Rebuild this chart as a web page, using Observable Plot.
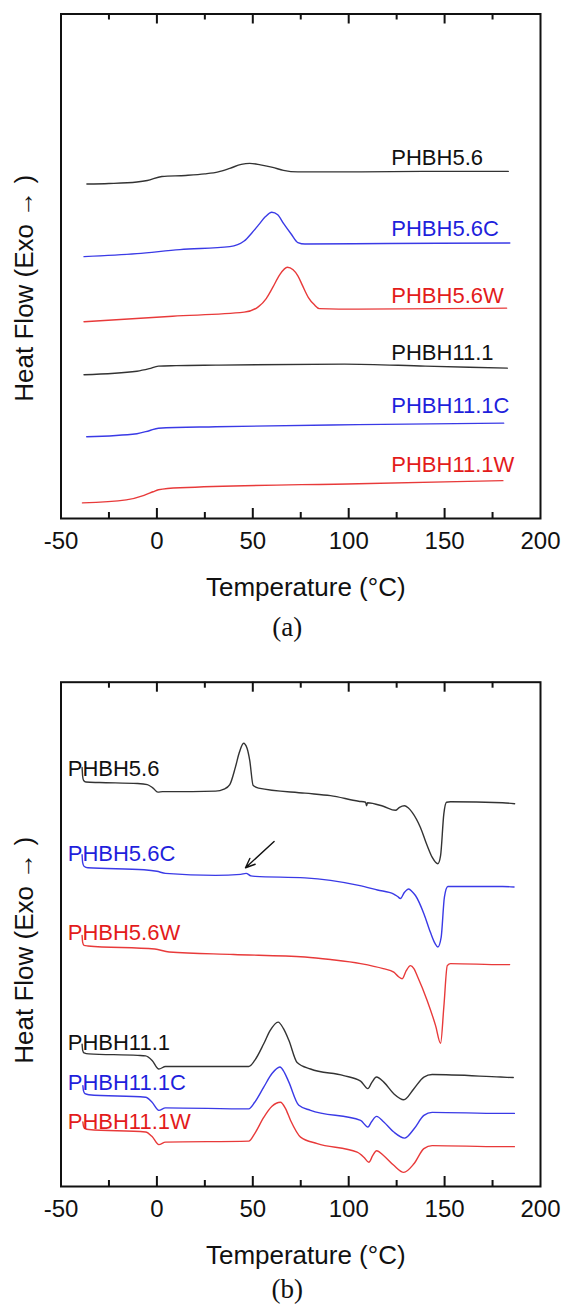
<!DOCTYPE html>
<html>
<head>
<meta charset="utf-8">
<script src="https://cdn.jsdelivr.net/npm/d3@7"></script>
<script src="https://cdn.jsdelivr.net/npm/@observablehq/plot@0.6"></script>
<style>
html, body { margin: 0; padding: 0; background: #ffffff; }
svg { display: block; }
</style>
</head>
<body>
<div id="chart"></div>
<script>
// ---------- shared labels / ticks ----------
const seriesNames = ["PHBH5.6", "PHBH5.6C", "PHBH5.6W", "PHBH11.1", "PHBH11.1C", "PHBH11.1W"];
const xTickLabels = [-50, 0, 50, 100, 150, 200];
const xMajorTicks = [0, 50, 100, 150];
const xMinorTicks = [-25, 25, 75, 125, 175];
const xTitle = "Temperature (°C)";
const yTitle = "Heat Flow (Exo → )";

// ---------- panel (a): [Temperature °C, heat flow (a.u.)] ----------
const a_PHBH56 = [[-36.5,66.3],[-25,66.4],[-10.4,66.7],[-5,67.0],[2.6,67.8],[15,68.0],[25,68.3],[32,68.7],[38,69.4],[44,70.2],[48.4,70.4],[54,70.1],[60.4,69.6],[66,69.0],[73.5,68.7],[105,68.7],[140,68.8],[183.2,68.8]];
const a_PHBH56C = [[-38,51.9],[-10.4,52.5],[12,53.3],[38,53.9],[45.5,55.0],[49.5,56.6],[53,58.2],[56.5,59.8],[59.9,60.7],[63,60.2],[66,58.5],[70,56.4],[73.5,54.7],[77.2,54.4],[120,54.5],[184,54.6]];
const a_PHBH56W = [[-38,39.0],[8.2,40.1],[45.5,40.9],[53,42.0],[57,43.6],[60.4,45.8],[64,48.3],[68,49.8],[71,49.3],[73.5,48.1],[76,46.1],[79,43.8],[82,42.4],[84.7,41.6],[105,41.5],[182.3,41.7]];
const a_PHBH111 = [[-38,28.5],[-10.4,29.2],[-4,29.7],[0.8,30.2],[10,30.3],[30.6,30.4],[97.8,30.6],[140,30.2],[182.7,29.8]];
const a_PHBH111C = [[-36.6,16.2],[-10.4,16.8],[-4,17.4],[0.8,17.9],[30.6,18.2],[105,18.6],[180.8,18.9]];
const a_PHBH111W = [[-38.8,3.1],[-16,3.7],[-6.7,4.6],[-2,5.3],[0.8,5.7],[12,6.1],[105,6.9],[180.4,7.5]];
const a_labelT = 122.2;
const a_labelHF = [71.5, 57.4, 44.2, 32.9, 22.4, 10.6];

// ---------- panel (b) ----------
const b_PHBH56 = [[-39,83.1],[-38.7,81.3],[-38.2,80.5],[-37,80.2],[-30,80.1],[-10,79.9],[-5,79.7],[-2,79.0],[0.5,78.2],[3,78.3],[6.4,78.3],[30.6,78.4],[35,78.8],[38,79.7],[40.9,83.1],[43,86.1],[45.2,87.9],[47,86.9],[48.4,84.5],[50.2,79.5],[53,79.0],[77.2,78.0],[90.5,77.5],[105.2,76.4],[108.8,76.2],[109.3,75.5],[109.8,76.1],[118,75.4],[124.4,74.6],[126.5,75.2],[129.1,75.5],[131,75.1],[133.1,74.2],[137.4,71.2],[140.9,67.6],[143.5,65.3],[146.5,64.0],[147.9,65.6],[149.6,73.9],[151,76.2],[153.1,76.3],[180.2,76.1],[186.5,75.9]];
const b_PHBH56C = [[-39,65.8],[-38.7,64.2],[-38,63.5],[-36,63.2],[-6.7,62.8],[0,62.5],[4.5,62.1],[30.6,61.7],[43.7,61.9],[46.5,62.1],[49,61.6],[51.2,61.5],[77.2,61.2],[90.5,60.7],[105.2,59.7],[115,58.8],[123.5,58.0],[125.5,57.5],[127,57.1],[129,58.3],[131.3,59.0],[133,58.5],[134.8,57.7],[139.2,54.1],[142.6,50.4],[145,48.2],[146.5,47.5],[148.2,49.4],[149.9,57.4],[151.7,59.5],[180.2,59.5],[186.2,59.4]];
const b_PHBH56W = [[-39,49.8],[-38.7,48.4],[-38,47.8],[-36,47.7],[-1.1,47.1],[6.4,46.5],[40,46.0],[77.2,45.5],[90.5,45.0],[106.2,44.2],[118,43.2],[123.5,42.5],[126,41.6],[127.9,41.2],[130,42.8],[132.2,43.8],[134,43.2],[135.7,41.8],[140.9,36.9],[145.3,31.9],[147.9,28.4],[149.6,35.6],[151.4,43.8],[153.1,44.2],[180.2,44.0],[183.9,44.0]];
const b_PHBH111 = [[-39,28.2],[-38.7,27.0],[-38,26.5],[-35.5,26.3],[-10,26.0],[-5.9,25.9],[-2.5,25.0],[1,23.3],[4.5,23.8],[47.9,23.8],[51,25.0],[55.7,28.3],[59,30.9],[63.2,32.6],[66,31.3],[68.8,29.0],[73.1,24.6],[80.1,23.3],[97.4,22.0],[106.2,20.9],[110,19.4],[112,20.6],[114.5,21.7],[118.3,20.7],[123.5,18.4],[128.7,17.2],[134,19.4],[139.2,21.7],[143.5,22.2],[179.2,21.7],[185.8,21.6]];
const b_PHBH111C = [[-38.6,20.0],[-38.3,19.0],[-37.5,18.4],[-35.5,18.2],[-5.9,17.7],[-2.5,16.7],[1,15.1],[4.5,15.6],[47.9,15.4],[51,16.7],[55.7,19.7],[60,22.4],[64.1,23.7],[66.5,22.6],[68.8,20.7],[74,16.1],[80.1,15.1],[106.2,13.1],[110,11.8],[112,12.9],[114.5,13.9],[118.3,12.8],[123.5,10.8],[129.1,9.6],[134,11.4],[139.2,14.1],[143.5,14.7],[179.2,14.5],[186.4,14.5]];
const b_PHBH111W = [[-38.6,12.8],[-38.3,12.0],[-37.5,11.5],[-35.5,11.3],[-5.9,10.8],[-2.5,9.9],[1,8.3],[4.5,8.8],[47.9,9.0],[51,10.5],[55.7,13.7],[60,15.9],[64.4,16.7],[67,15.5],[69.7,13.1],[74.9,9.8],[83.6,8.5],[104.4,6.8],[107.9,5.8],[110.5,4.8],[112.5,6.1],[114.5,7.1],[118.3,6.1],[123.5,4.2],[128.7,2.8],[134,4.5],[139.2,7.5],[143.5,8.1],[179.2,7.9],[186.4,7.9]];
const b_labelT = -46.5;
const b_labelHF = [82.8, 66.0, 50.2, 28.4, 20.5, 12.8];
// arrow pointing at the small exotherm of PHBH5.6C: [tail T, tail HF, tip T, tip HF]
const b_arrow = [61.1, 68.4, 46.2, 63.2];

// ---------- styles ----------
const lineColors = ["#333333", "#3a3ae6", "#e83a3a", "#333333", "#3a3ae6", "#e83a3a"];
const textColors = ["#111111", "#1f1fdc", "#e31b1b", "#111111", "#1f1fdc", "#e31b1b"];
const SANS = "Liberation Sans, Arial, Helvetica, sans-serif";
const SERIF = "Liberation Serif, Times New Roman, serif";
const W = 563;

function panel({curves, labelT, labelHF, caption, height, marginTop, marginBottom, yTitleDy, captionDy, arrow}) {
  const marginLeft = 60.5, marginRight = 23;
  const fh = height - marginTop - marginBottom;
  const marks = [];
  curves.forEach((c, i) => {
    marks.push(Plot.line(c, {x: d => d[0], y: d => d[1], stroke: lineColors[i], strokeWidth: 1.4, curve: "monotone-x"}));
  });
  seriesNames.forEach((name, i) => {
    marks.push(Plot.text([name], {x: () => labelT, y: () => labelHF[i], text: d => d, textAnchor: "start", lineAnchor: "middle",
      fill: textColors[i], fontSize: 22, fontFamily: SANS}));
  });
  if (arrow) {
    marks.push(Plot.arrow([arrow], {x1: d => d[0], y1: d => d[1], x2: d => d[2], y2: d => d[3],
      stroke: "#111", strokeWidth: 1.4, headLength: 11, headAngle: 45}));
  }
  marks.push(
    Plot.frame({stroke: "#111", strokeWidth: 2}),
    Plot.ruleX(xMajorTicks, {x: d => d, insetTop: fh - 10, stroke: "#111", strokeWidth: 2}),
    Plot.ruleX(xMajorTicks, {x: d => d, insetBottom: fh - 10, stroke: "#111", strokeWidth: 2}),
    Plot.ruleX(xMinorTicks, {x: d => d, insetTop: fh - 6, stroke: "#111", strokeWidth: 2}),
    Plot.ruleX(xMinorTicks, {x: d => d, insetBottom: fh - 6, stroke: "#111", strokeWidth: 2}),
    Plot.axisX(xTickLabels, {tickSize: 0, tickPadding: 13, fontSize: 24, fontFamily: SANS, fill: "#111",
      tickFormat: d => String(d), label: null}),
    Plot.text([xTitle], {frameAnchor: "bottom", text: d => d, dy: 69, dx: 5, lineAnchor: "middle",
      fontSize: 26, fontFamily: SANS, fill: "#111"}),
    Plot.text([caption], {frameAnchor: "bottom", text: d => d, dy: captionDy, dx: -13.6, lineAnchor: "middle",
      fontSize: 27, fontFamily: SERIF, fill: "#111"}),
    Plot.text([yTitle], {frameAnchor: "left", text: d => d, rotate: -90, dx: -36.5, dy: yTitleDy,
      textAnchor: "middle", lineAnchor: "middle", fontSize: 26, fontFamily: SANS, fill: "#111"})
  );
  return Plot.plot({
    width: W, height, marginTop, marginBottom, marginLeft, marginRight,
    x: {domain: [-50, 200]},
    y: {domain: [0, 100], axis: null},
    style: {background: "#ffffff", overflow: "visible"},
    marks
  });
}

const root = document.getElementById("chart");
root.append(panel({
  curves: [a_PHBH56, a_PHBH56C, a_PHBH56W, a_PHBH111, a_PHBH111C, a_PHBH111W],
  labelT: a_labelT, labelHF: a_labelHF, caption: "(a)",
  height: 640, marginTop: 13.5, marginBottom: 122, yTitleDy: 22, captionDy: 109
}));
root.append(panel({
  curves: [b_PHBH56, b_PHBH56C, b_PHBH56W, b_PHBH111, b_PHBH111C, b_PHBH111W],
  labelT: b_labelT, labelHF: b_labelHF, caption: "(b)",
  height: 665, marginTop: 41.7, marginBottom: 119, yTitleDy: 16, captionDy: 103, arrow: b_arrow
}));
</script>
</body>
</html>
